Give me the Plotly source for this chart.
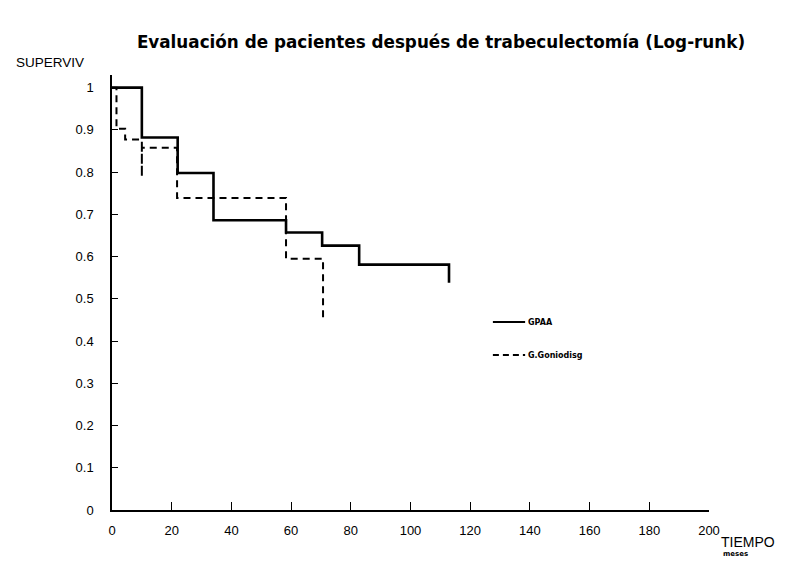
import plotly.graph_objects as go

# Kaplan-Meier step data (time in months, survival)
gpaa_t = [0, 10, 22, 34, 58.3, 70.4, 82.8, 112.9]
gpaa_s = [1.0, 0.882, 0.798, 0.686, 0.657, 0.626, 0.581, 0.538]

gonio_t = [0, 1.5, 4.4, 10, 10, 21.8, 58.3, 70.7]
gonio_s = [1.0, 0.903, 0.877, 0.789, 0.858, 0.739, 0.595, 0.455]

x_ticks = [0, 20, 40, 60, 80, 100, 120, 140, 160, 180, 200]
y_ticks = [0, 0.1, 0.2, 0.3, 0.4, 0.5, 0.6, 0.7, 0.8, 0.9, 1.0]
y_tick_labels = ["0", "0.1", "0.2", "0.3", "0.4", "0.5", "0.6", "0.7", "0.8", "0.9", "1"]

series_names = ["GPAA", "G.Goniodisg"]

FONT = "Liberation Sans Narrow, Liberation Sans, Arial, sans-serif"
OFF = 8  # page body margin

fig = go.Figure()
fig.add_trace(go.Scatter(x=gpaa_t, y=gpaa_s, mode="lines", line_shape="hv",
                         line=dict(color="black", width=2.6), name=series_names[0],
                         showlegend=False))
fig.add_trace(go.Scatter(x=gonio_t, y=gonio_s, mode="lines", line_shape="hv",
                         line=dict(color="black", width=2, dash="7px,5px"),
                         name=series_names[1], showlegend=False))

# hand-drawn style legend
leg_x0, leg_x1 = 127.6, 138.4
leg_y = [0.445, 0.367]
leg_dash = ["solid", "6px,4px"]
for i, name in enumerate(series_names):
    fig.add_shape(type="line", xref="x", yref="y", x0=leg_x0, x1=leg_x1,
                  y0=leg_y[i], y1=leg_y[i],
                  line=dict(color="black", width=2 if i == 0 else 1.8, dash=leg_dash[i]))
    fig.add_annotation(x=leg_x1 + 0.3, y=leg_y[i], xref="x", yref="y", text=name,
                       showarrow=False, xanchor="left", yanchor="middle",
                       font=dict(family="DejaVu Sans, Arial", size=8, color="black",
                                 weight="bold"))

W, H = 800 - OFF, 580 - OFF
L, R, T, B = 112 - OFF, 91, 75 - OFF, 70


def px_ann(x, y, text, size, bold=False, family="Liberation Sans, Arial"):
    fig.add_annotation(x=(x - OFF - L) / (W - L - R), y=(H - B - (y - OFF)) / (H - T - B),
                       xref="paper", yref="paper", text=text, showarrow=False,
                       xanchor="left", yanchor="middle",
                       font=dict(family=family, size=size, color="black",
                                 weight="bold" if bold else "normal"))


px_ann(14, 62, "SUPERVIV", 13.5)
px_ann(719, 542, "TIEMPO", 14)
px_ann(721, 554, "meses", 7, bold=True, family="DejaVu Sans, Arial")

fig.update_layout(
    width=W, height=H,
    margin=dict(l=L, r=R, t=T, b=B),
    plot_bgcolor="white", paper_bgcolor="white",
    title=dict(text="Evaluación de pacientes después de trabeculectomía (Log-runk)",
               x=(441 - OFF) / W, xanchor="center", y=1 - (42 - OFF) / H, yanchor="middle",
               font=dict(family="DejaVu Sans, Arial", size=16.8, color="black", weight="bold")),
    font=dict(family=FONT, color="black"),
)
fig.update_xaxes(range=[0, 200], tickvals=x_ticks, ticks="inside", ticklen=8, tickwidth=1.2,
                 tickcolor="black", showline=True, linecolor="black", linewidth=2,
                 showgrid=False, zeroline=False, tickfont=dict(size=13, family=FONT),
                 ticklabelstandoff=7)
fig.update_yaxes(range=[0, 1.03], tickvals=y_ticks, ticktext=y_tick_labels, ticks="inside",
                 ticklen=6, tickwidth=1.2, tickcolor="black", showline=True, linecolor="black",
                 linewidth=1.5, showgrid=False, zeroline=False,
                 tickfont=dict(size=13, family=FONT), ticklabelstandoff=14)

fig.write_html("out.html")
